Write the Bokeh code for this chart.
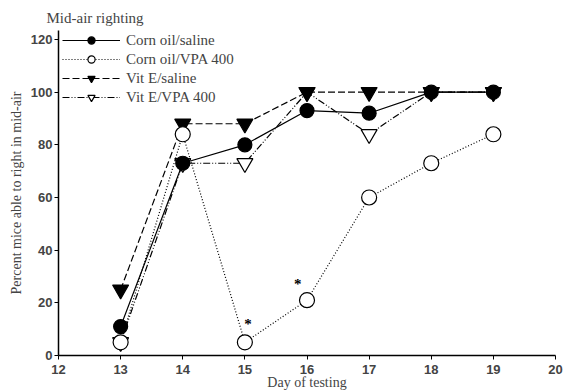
from bokeh.plotting import figure
from bokeh.models import Range1d, LegendItem, Legend, FixedTicker
from bokeh.core.properties import value
from bokeh.embed import file_html
from bokeh.resources import INLINE

days = [13, 14, 15, 16, 17, 18, 19]
corn_saline = [11, 73, 80, 93, 92, 100, 100]
corn_vpa = [5, 84, 5, 21, 60, 73, 84]
vite_saline = [25, 88, 88, 100, 100, 100, 100]
vite_vpa = [5, 73, 73, 100, 84, 100, 100]
star_x = [15.05, 15.85]
star_y = [12, 27]
x_ticks = [12, 13, 14, 15, 16, 17, 18, 19, 20]
y_ticks = [0, 20, 40, 60, 80, 100, 120]

SERIF = "Liberation Serif"
SANS = "Liberation Sans"

p = figure(width=563, height=392, output_backend="svg", toolbar_location=None,
           x_range=Range1d(12, 20), y_range=Range1d(0, 123.4),
           min_border_left=58, min_border_right=8, min_border_top=30, min_border_bottom=32)
p.title.text = "Mid-air righting"
p.title.text_font = SERIF
p.title.text_font_size = "15px"
p.title.text_font_style = "normal"
p.title.offset = -12
p.title.standoff = 9

p.grid.visible = False
p.outline_line_color = None
p.background_fill_color = "white"
p.border_fill_color = "white"

for ax in (p.xaxis[0], p.yaxis[0]):
    ax.axis_line_color = "black"
    ax.axis_line_width = 1.5
    ax.major_tick_line_color = "black"
    ax.minor_tick_line_color = None
    ax.major_tick_in = 0
    ax.major_tick_out = 4
    ax.major_label_text_font = SANS
    ax.major_label_text_font_size = "13px"
    ax.major_label_text_font_style = "bold"
    ax.axis_label_text_font = SERIF
    ax.axis_label_text_font_size = "14px"
    ax.axis_label_text_font_style = "normal"

p.xaxis.ticker = FixedTicker(ticks=x_ticks)
p.yaxis.ticker = FixedTicker(ticks=y_ticks)
p.xaxis.axis_label = "Day of testing"
p.yaxis.axis_label = "Percent mice able to right in mid-air"
p.xaxis.axis_label_standoff = -2
p.yaxis.axis_label_standoff = 4
p.xaxis.major_label_standoff = 5
p.yaxis.major_label_standoff = 2

items = []
specs = [
    ("Corn oil/saline", corn_saline, "solid", "circle", "black", 14),
    ("Corn oil/VPA 400", corn_vpa, "1 2", "circle", "white", 15),
    ("Vit E/saline", vite_saline, "7 3", "inverted_triangle", "black", 16),
    ("Vit E/VPA 400", vite_vpa, "7 2 1 2 1 2", "inverted_triangle", "white", 16),
]
line_rs = []
for label, ys, dash, marker, fill, size in specs:
    lr = p.line(days, ys, line_color="black", line_width=1.2, line_dash=dash)
    line_rs.append(lr)
scatter_rs = []
for label, ys, dash, marker, fill, size in specs[::-1]:
    sr = p.scatter(days, ys, marker=marker, size=size, fill_color=fill, line_color="black", line_width=1.2)
    scatter_rs.append(sr)
scatter_rs = scatter_rs[::-1]
for i, (label, ys, dash, marker, fill, size) in enumerate(specs):
    items.append(LegendItem(label=label, renderers=[line_rs[i], scatter_rs[i]]))

p.text(star_x, star_y, text=["*", "*"], text_font=value(SERIF), text_font_size="15px",
       text_font_style="bold", text_align="center", text_baseline="middle",
       text_color="#000000")

legend = Legend(items=items, location=(4, 249))
legend.border_line_color = None
legend.background_fill_alpha = 0
legend.label_text_font = SERIF
legend.label_text_font_size = "15px"
legend.glyph_width = 58
legend.glyph_height = 18
legend.label_height = 18
legend.label_standoff = 6
legend.spacing = 1
legend.padding = 0
legend.margin = 0
p.add_layout(legend)

open("out.html", "w").write(file_html(p, INLINE))
